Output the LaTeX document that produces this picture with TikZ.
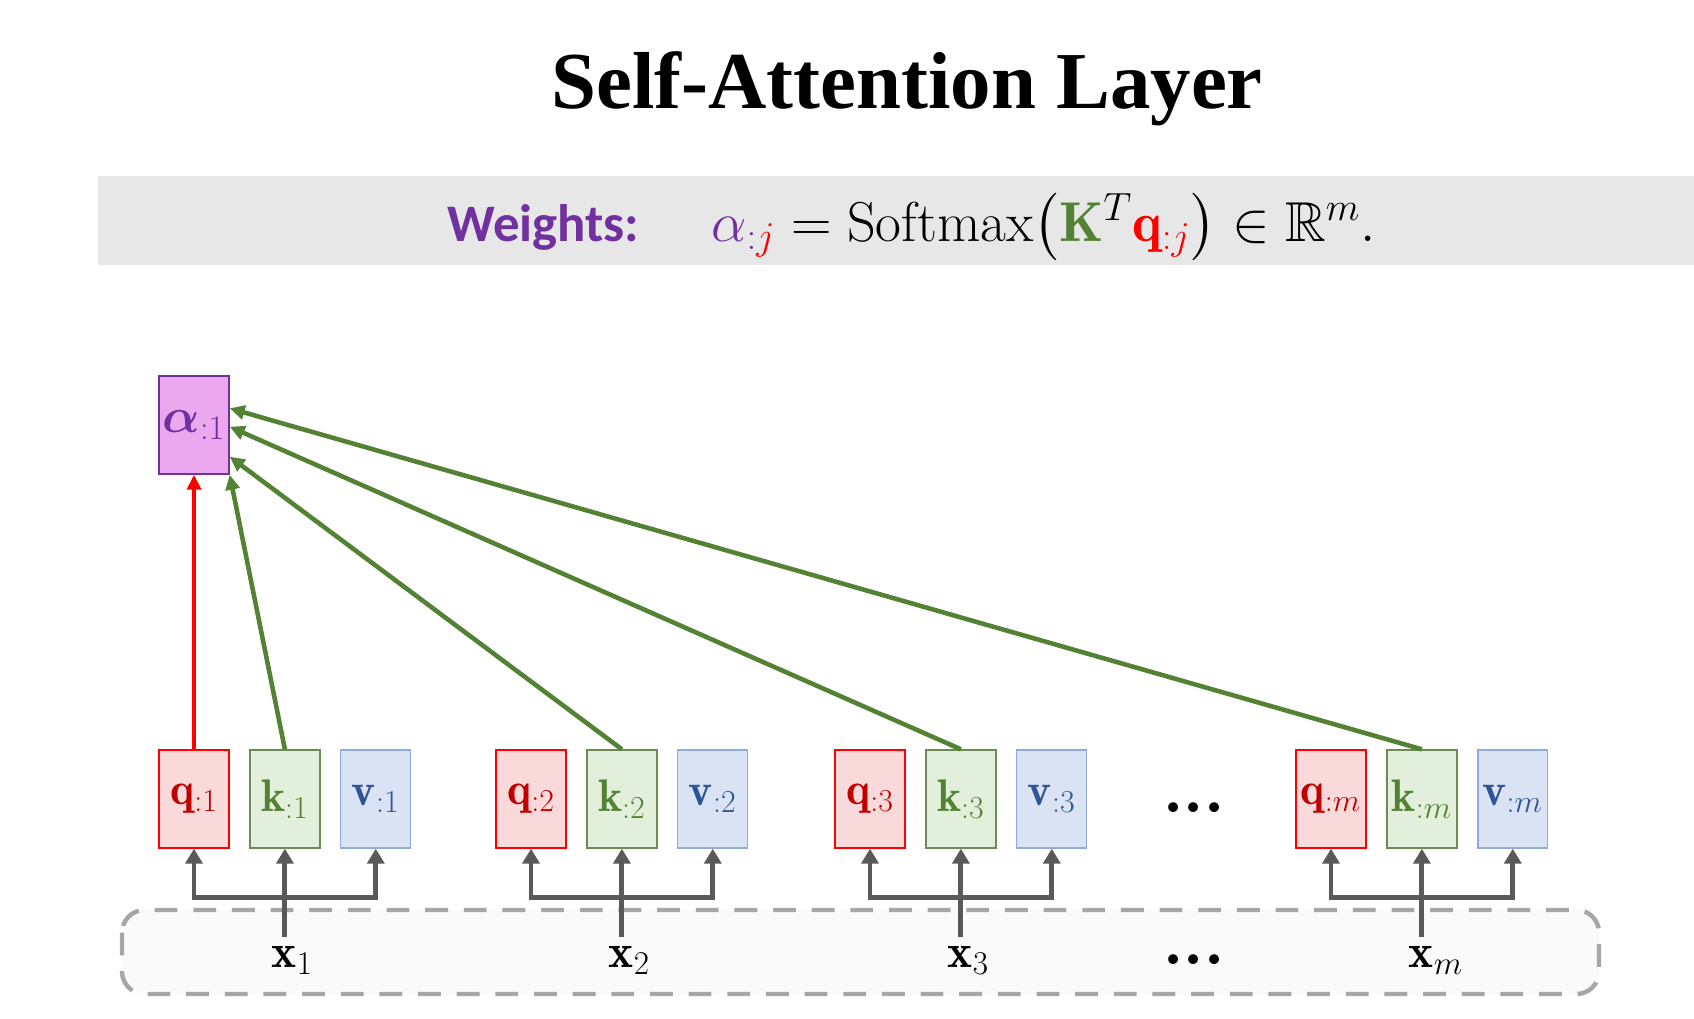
\documentclass[tikz,border=0pt]{standalone}
\usepackage{fix-cm}
\usepackage{amsmath,amssymb,mathtools}
\usepackage{fontspec}
\newfontfamily\calfont{Carlito}
\newfontfamily\titlefont{Liberation Serif}
\usetikzlibrary{positioning,arrows.meta}

\definecolor{qred}{HTML}{C00000}
\definecolor{qline}{HTML}{FF0000}
\definecolor{qfill}{HTML}{F9D9D9}
\definecolor{kgreen}{HTML}{548235}
\definecolor{kline}{HTML}{6E8B55}
\definecolor{kfill}{HTML}{E2EFDA}
\definecolor{vblue}{HTML}{2F5597}
\definecolor{vline}{HTML}{8FAADC}
\definecolor{vfill}{HTML}{DAE3F3}
\definecolor{apurple}{HTML}{7030A0}
\definecolor{afill}{HTML}{EBA8EE}
\definecolor{arrowgray}{HTML}{595959}
\definecolor{bandgray}{HTML}{E7E7E7}
\definecolor{dashgray}{HTML}{A6A6A6}

\tikzset{
  vecbox/.style={draw, line width=0.8pt, minimum width=1.4cm, minimum height=1.96cm, inner sep=0pt, font=\fontsize{26}{30}\selectfont},
  qbox/.style={vecbox, draw=qline, fill=qfill, text=qred},
  kbox/.style={vecbox, draw=kline, fill=kfill, text=kgreen},
  vbox/.style={vecbox, draw=vline, fill=vfill, text=vblue},
  abox/.style={vecbox, draw=apurple, fill=afill, text=apurple, font=\fontsize{28}{30}\selectfont},
  xlabel/.style={anchor=base, inner sep=5pt, font=\fontsize{27}{30}\selectfont},
  gapdots/.style={font=\fontsize{36}{36}\selectfont},
  inarrow/.style={draw=arrowgray, line width=2.8pt, >={Triangle[length=0.3cm,width=0.34cm]}},
  karrow/.style={->, draw=kgreen, line width=2.6pt, >={Triangle[length=0.3cm,width=0.28cm]}},
  qarrow/.style={->, draw=qline, line width=2.4pt, >={Triangle[length=0.3cm,width=0.28cm]}}
}

\begin{document}
\begin{tikzpicture}[x=0.02cm, y=-0.02cm]
    \useasboundingbox (0,0) rectangle (1694,1018);
    \fill[bandgray] (98,176) rectangle (1694,265);
    \node[anchor=base, font=\titlefont\bfseries\fontsize{46}{50}\selectfont] (title) at (907,108) {Self-Attention Layer};
    \node[anchor=base west, text=apurple, font=\calfont\bfseries\fontsize{30}{34}\selectfont] (weights) at (441,241) {Weights:};
    \node[anchor=base west, font=\fontsize{32}{34}\selectfont] (formula) at (705,241)
        {$\textcolor{apurple}{\alpha}_{\textcolor{apurple}{:}\textcolor{qline}{j}} = \mathrm{Softmax}\bigl(\textcolor{kgreen}{\mathbf{K}}^{T}\textcolor{qline}{\mathbf{q}_{:j}}\bigr) \in \mathbb{R}^{m}.$};

    \draw[dashgray, fill=black!2, line width=2.5pt, dash pattern=on 13pt off 9pt, rounded corners=0.45cm] (122,910) rectangle (1599,994);

    \node[abox] (a1) at (194,425) {$\boldsymbol{\alpha}_{:1}$};

    \foreach \i/\c in {1/194, 2/531, 3/870, m/1331} {
        \node[qbox] (q\i) at (\c,799) {$\mathbf{q}_{:\i}$};
        \node[kbox, right=0.39cm of q\i] (k\i) {$\mathbf{k}_{:\i}$};
        \node[vbox, right=0.39cm of k\i] (v\i) {$\mathbf{v}_{:\i}$};
        \node[xlabel] (x\i) at (k\i |- 0,967) {$\mathbf{x}_{\mathrlap{\i}}$};
        \draw[inarrow, ->] (x\i.north) -- (k\i.south);
        \draw[inarrow, <->] (q\i.south) -- ++(0,49) -| (v\i.south);
    }

    \node[gapdots] (gaptop) at (1194,809) {$\boldsymbol{\cdotp}\boldsymbol{\cdotp}\boldsymbol{\cdotp}$};
    \node[gapdots] (gapbot) at (1194,961) {$\boldsymbol{\cdotp}\boldsymbol{\cdotp}\boldsymbol{\cdotp}$};

    \draw[qarrow] (q1.north) -- (a1.south);
    \draw[karrow] (k1.north) -- (a1.south east);
    \draw[karrow] (k2.north) -- ([yshift=-18pt]a1.east);
    \draw[karrow] (k3.north) -- ([yshift=-1pt]a1.east);
    \draw[karrow] (km.north) -- ([yshift=9.5pt]a1.east);
\end{tikzpicture}
\end{document}
